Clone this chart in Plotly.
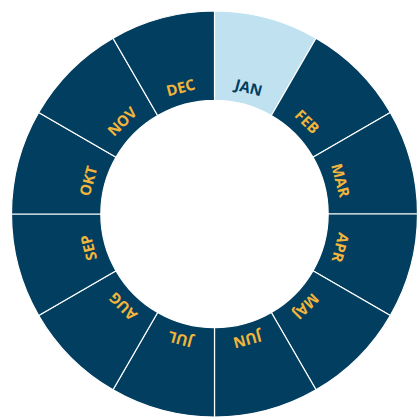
import math
import plotly.graph_objects as go

months = ["JAN", "FEB", "MAR", "APR", "MAJ", "JUN", "JUL", "AUG", "SEP", "OKT", "NOV", "DEC"]
values = [1] * 12
highlight = "JAN"

DARK = "#023e5f"
LIGHT = "#bfe1f0"
GOLD = "#f2b53b"

W, H = 418, 417
cx, cy, R = 214.5, 214, 203  # pixel centre (from top-left) and outer radius
hole = 0.56
label_r = 131

colors = [LIGHT if m == highlight else DARK for m in months]

fig = go.Figure(go.Pie(
    labels=months,
    values=values,
    hole=hole,
    sort=False,
    direction="clockwise",
    rotation=0,
    marker=dict(colors=colors, line=dict(color="white", width=1.2)),
    textinfo="none",
    hoverinfo="label",
    showlegend=False,
    domain=dict(x=[(cx - R) / W, min(1, (cx + R) / W)],
                y=[max(0, (H - cy - R) / H), (H - cy + R) / H]),
))

total = sum(values)
acc = 0
annotations = []
for m, v in zip(months, values):
    mid = (acc + v / 2) / total * 360
    acc += v
    a = math.radians(mid)
    px = cx + label_r * math.sin(a)
    py = cy - label_r * math.cos(a)
    annotations.append(dict(
        x=px / W, y=(H - py) / H, xref="paper", yref="paper",
        text=m, showarrow=False, textangle=mid,
        xanchor="center", yanchor="middle",
        font=dict(family="Open Sans", size=15, color=DARK if m == highlight else GOLD, weight="bold"),
    ))

fig.update_layout(
    width=W, height=H,
    margin=dict(l=0, r=0, t=0, b=0),
    paper_bgcolor="white",
    plot_bgcolor="white",
    annotations=annotations,
)

fig.write_html(
    "out.html",
    config={"displayModeBar": False},
    post_script="document.body.style.margin='0';document.body.style.overflow='hidden';",
)
